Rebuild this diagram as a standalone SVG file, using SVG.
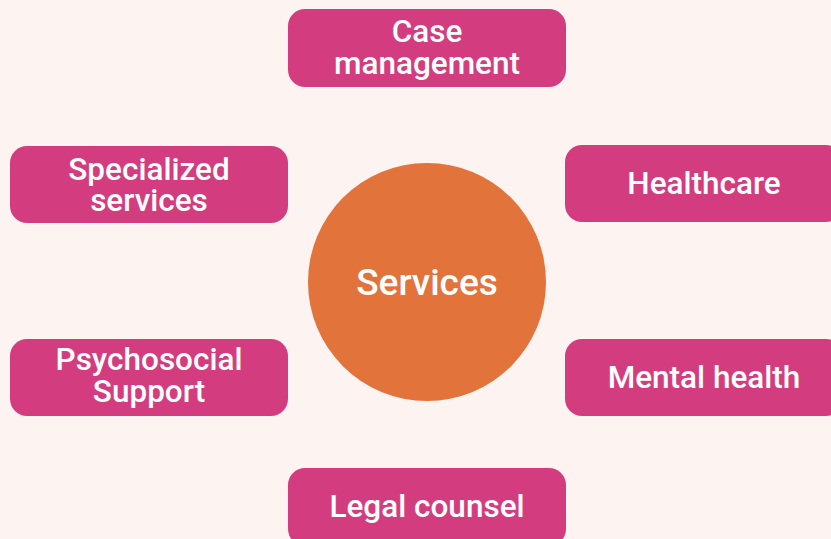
<svg xmlns="http://www.w3.org/2000/svg" width="831" height="539" viewBox="0 0 831 539">
<style>
.box{fill:#D33D7F;}
.t{font-family:Roboto,"Liberation Sans",sans-serif;font-weight:500;font-size:31.5px;fill:#FFFFFF;text-anchor:middle;}
.c{font-family:Roboto,"Liberation Sans",sans-serif;font-weight:500;font-size:37px;fill:#FFFFFF;text-anchor:middle;}
</style>
<rect width="831" height="539" fill="#FDF3F0"/>
<g id="connectors"></g>
<g id="center">
<circle cx="427" cy="282" r="119" fill="#E2733A"/>
<text class="c" x="427" y="295">Services</text>
</g>
<g id="case-management">
<rect class="box" x="288" y="9" width="278" height="78" rx="17"/>
<text class="t" x="427" y="42">Case</text>
<text class="t" x="427" y="74">management</text>
</g>
<g id="specialized-services">
<rect class="box" x="10" y="146" width="278" height="77" rx="17"/>
<text class="t" x="149" y="180">Specialized</text>
<text class="t" x="149" y="211">services</text>
</g>
<g id="healthcare">
<rect class="box" x="565" y="145" width="278" height="77" rx="17"/>
<text class="t" x="704" y="194">Healthcare</text>
</g>
<g id="psychosocial-support">
<rect class="box" x="10" y="339" width="278" height="77" rx="17"/>
<text class="t" x="149" y="370">Psychosocial</text>
<text class="t" x="149" y="402">Support</text>
</g>
<g id="mental-health">
<rect class="box" x="565" y="339" width="278" height="77" rx="17"/>
<text class="t" x="704" y="388">Mental health</text>
</g>
<g id="legal-counsel">
<rect class="box" x="288" y="468" width="278" height="78" rx="17"/>
<text class="t" x="427" y="517">Legal counsel</text>
</g>
</svg>
